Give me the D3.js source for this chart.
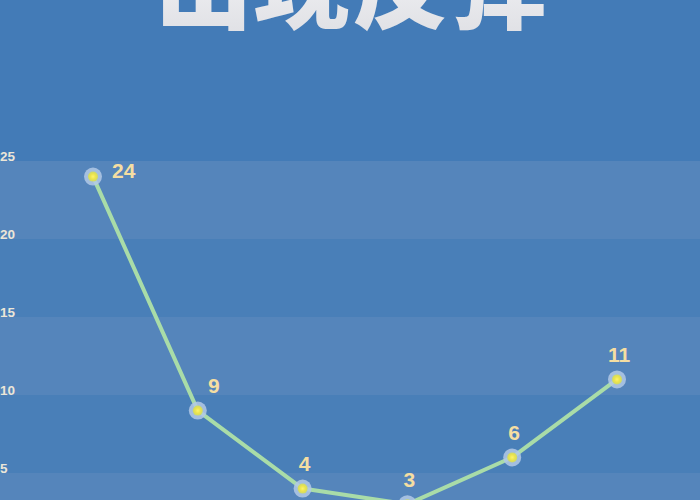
<!DOCTYPE html>
<html>
<head>
<meta charset="utf-8">
<script src="https://cdn.jsdelivr.net/npm/d3@7"></script>
<style>
  html, body { margin: 0; padding: 0; background: #437bb7; }
  svg { display: block; }
</style>
</head>
<body>
<div class="chart"></div>
<script>
const title = '出现反弹';
const periods = ['p1', 'p2', 'p3', 'p4', 'p5', 'p6'];
const values = [24, 9, 4, 3, 6, 11];
const yTicks = [5, 10, 15, 20, 25];

const width = 700;
const height = 500;

const svg = d3.select('.chart')
    .append('svg')
        .attr('width', width)
        .attr('height', height);

const defs = svg.append('defs');

const titleGrad = defs.append('linearGradient')
    .attr('id', 'titleGrad')
    .attr('x1', 0).attr('y1', 0)
    .attr('x2', 0).attr('y2', 1);
titleGrad.append('stop').attr('offset', '0%').attr('stop-color', '#ffffff');
titleGrad.append('stop').attr('offset', '100%').attr('stop-color', '#dcdde2');

const glow = defs.append('radialGradient').attr('id', 'dotGlow');
glow.append('stop').attr('offset', '0%').attr('stop-color', '#fbf46a');
glow.append('stop').attr('offset', '55%').attr('stop-color', '#ebe34c');
glow.append('stop').attr('offset', '100%').attr('stop-color', '#cbd96c');

const x = d3.scalePoint()
    .domain(periods)
    .range([93, 617]);

const y = d3.scaleLinear()
    .domain([0, 25])
    .range([551, 161]);

// background
svg.append('rect')
    .attr('width', width)
    .attr('height', height)
    .attr('fill', '#437bb7');

// alternating bands between ticks (lighter band on top)
const bandEdges = [0].concat(yTicks);
svg.append('g')
    .selectAll('rect')
    .data(d3.pairs(bandEdges))
    .enter()
        .append('rect')
        .attr('x', 0)
        .attr('width', width)
        .attr('y', d => y(d[1]))
        .attr('height', d => y(d[0]) - y(d[1]))
        .attr('fill', (d, i) => (bandEdges.length - 2 - i) % 2 === 0 ? '#5585bb' : '#497fb8');

// y axis labels
const yAxis = d3.axisLeft(y)
    .tickValues(yTicks)
    .tickSize(0)
    .tickPadding(0);

const ya = svg.append('g')
    .call(yAxis);
ya.select('.domain').remove();
ya.selectAll('text')
    .attr('x', 0)
    .attr('dy', '-0.05em')
    .attr('text-anchor', 'start')
    .attr('fill', '#ece6d8')
    .style('font-family', '"Liberation Sans", Arial, sans-serif')
    .style('font-weight', 'bold')
    .style('font-size', '13.5px');

// title (cut at the top)
svg.append('text')
    .attr('x', 352)
    .attr('y', 21)
    .attr('text-anchor', 'middle')
    .attr('fill', 'url(#titleGrad)')
    .style('font-family', '"Noto Sans CJK SC", sans-serif')
    .style('font-weight', 900)
    .style('font-size', '96px')
    .style('letter-spacing', '2px')
    .text(title);

const data = periods.map((p, i) => ({ p, v: values[i] }));

const line = d3.line()
    .x(d => x(d.p))
    .y(d => y(d.v));

svg.append('path')
    .datum(data)
    .attr('d', line)
    .attr('fill', 'none')
    .attr('stroke', '#a9dca8')
    .attr('stroke-width', 4)
    .attr('stroke-linejoin', 'round');

const pts = svg.append('g')
    .selectAll('g')
    .data(data)
    .enter()
        .append('g')
        .attr('transform', d => `translate(${x(d.p)}, ${y(d.v)})`);

pts.append('circle')
    .attr('r', 9)
    .attr('fill', '#b3c9e6')
    .attr('fill-opacity', 0.85);

pts.append('circle')
    .attr('r', 5)
    .attr('fill', 'url(#dotGlow)');

pts.append('text')
    .attr('x', (d, i) => i === 0 ? 19 : (i === 1 ? 16 : 2))
    .attr('y', (d, i) => i === 0 ? -6 : -25)
    .attr('dy', '0.35em')
    .attr('text-anchor', (d, i) => i === 0 ? 'start' : 'middle')
    .attr('fill', '#f5dea2')
    .style('font-family', '"Liberation Sans", Arial, sans-serif')
    .style('font-weight', 'bold')
    .style('font-size', '21px')
    .text(d => d.v);
</script>
</body>
</html>
